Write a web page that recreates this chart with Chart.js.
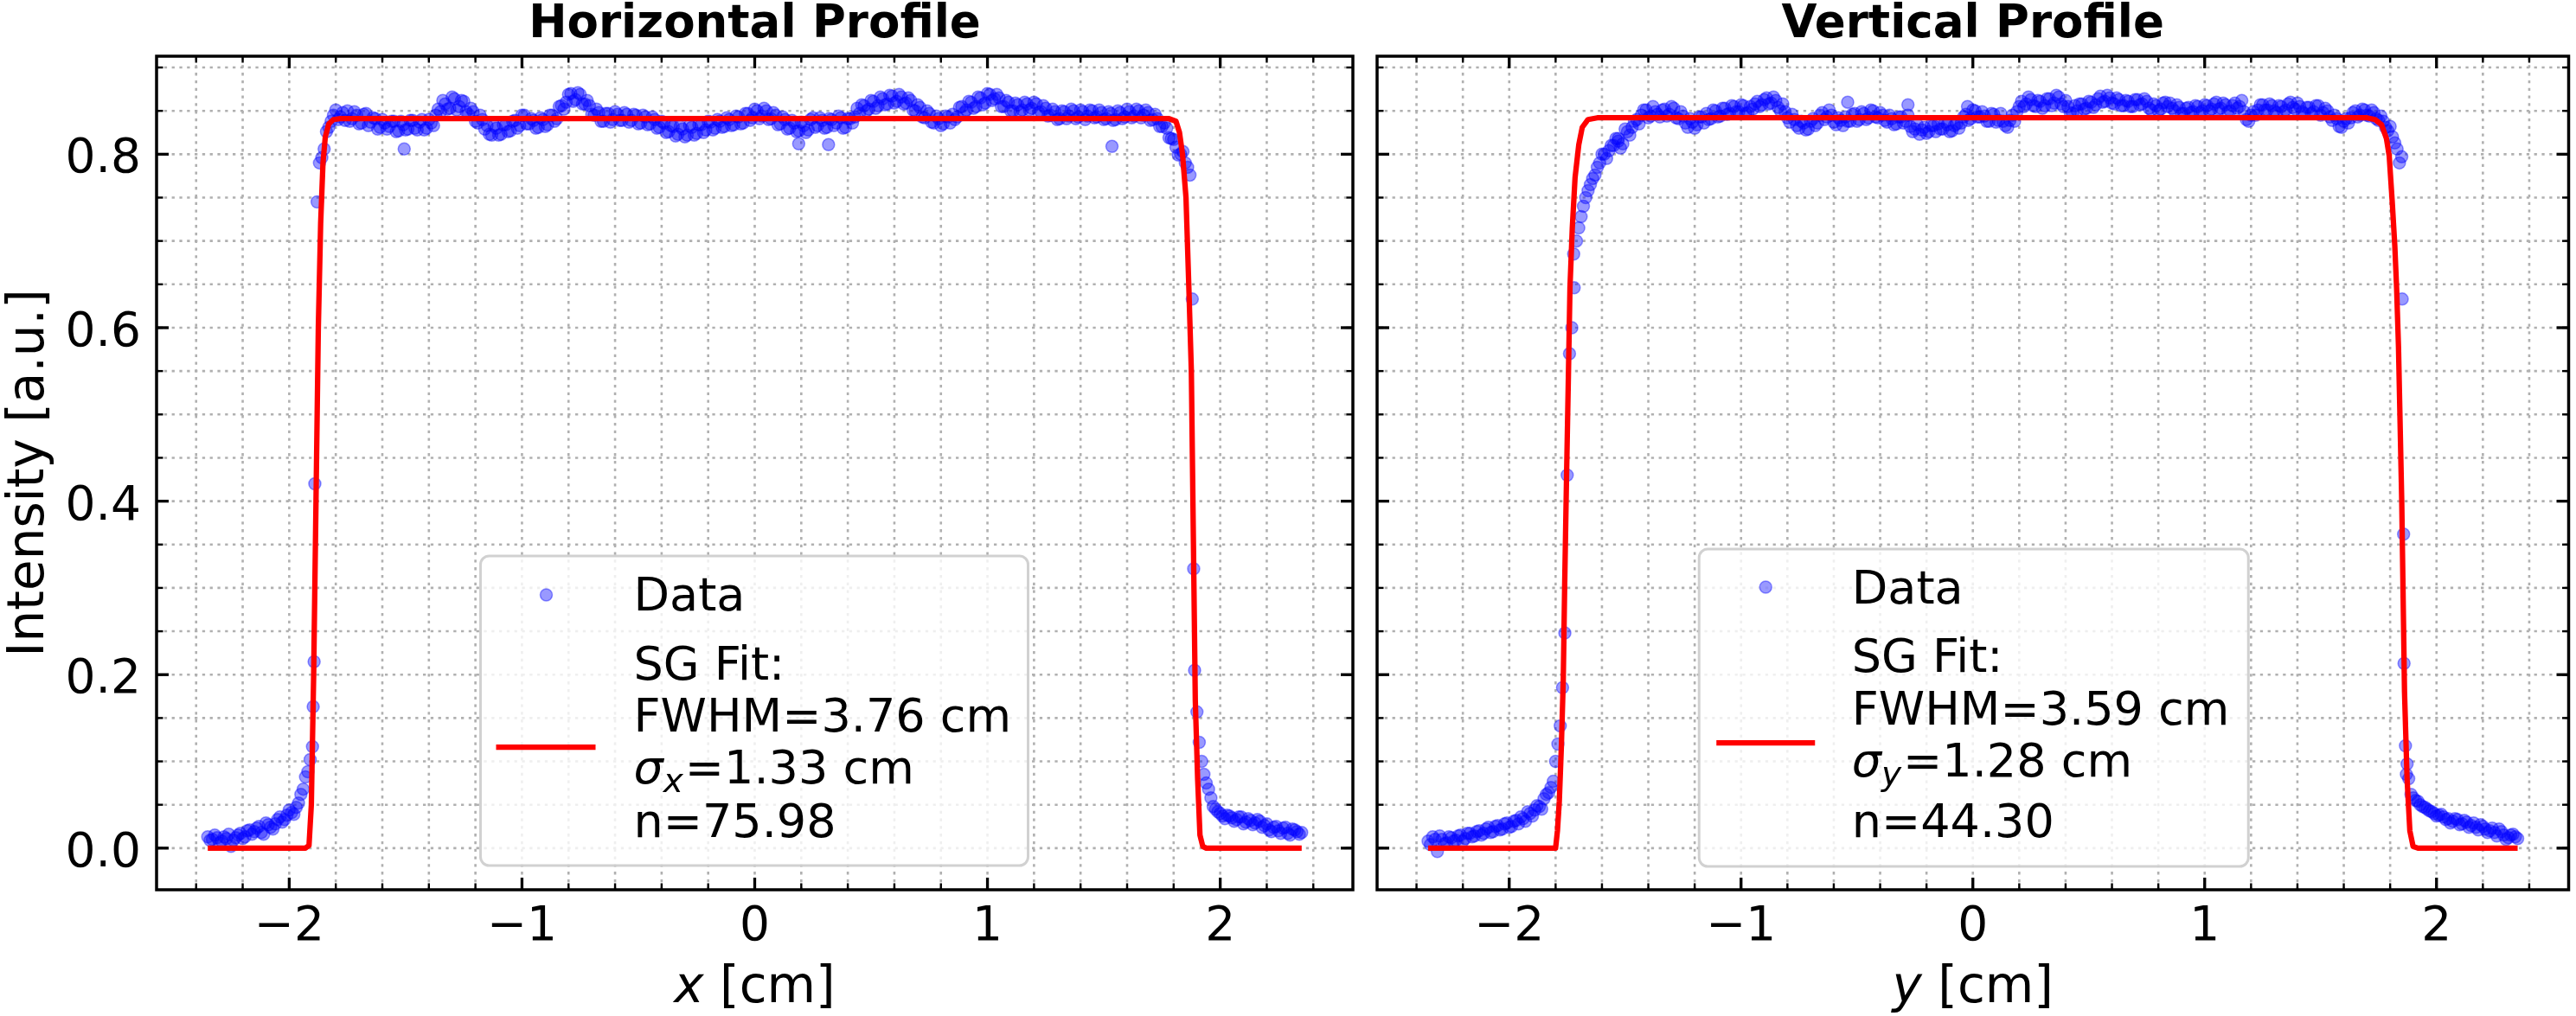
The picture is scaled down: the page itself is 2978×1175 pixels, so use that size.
<!DOCTYPE html>
<html>
<head>
<meta charset="utf-8">
<script src="https://cdn.jsdelivr.net/npm/chart.js@4.4.1/dist/chart.umd.min.js"></script>
<style>
  html, body { margin: 0; padding: 0; background: #fff; overflow: hidden; }
  #wrap { position: relative; width: 2978px; height: 1175px; }
  #wrap canvas { position: absolute; top: 0; }
  #hCanvas { left: 0; }
  #vCanvas { left: 1578px; }
</style>
</head>
<body>
<div id="wrap">
  <canvas id="hCanvas" width="1578" height="1175"></canvas>
  <canvas id="vCanvas" width="1400" height="1175"></canvas>
</div>
<script>
// samples every 0.02 cm: first set starts at -2.35, second (in between) at -2.34
const gridStart = -2.35;
const gridStart2 = -2.34;
const gridStep = 0.02;

// horizontal profile, 10 samples per row
const hY = [
  .013, .010, .012, .008, .011, .002, .012, .017, .013, .021,
  .019, .025, .016, .027, .022, .033, .030, .038, .041, .047,
  .062, .082, .102, .420, .790, .806, .831, .845, .840, .848,
  .850, .841, .845, .836, .847, .837, .841, .831, .836, .832,
  .838, .827, .834, .829, .839, .828, .840, .830, .836, .845,
  .849, .858, .853, .864, .855, .861, .846, .849, .836, .840,
  .833, .822, .830, .823, .834, .827, .839, .833, .845, .835,
  .839, .831, .840, .834, .845, .841, .856, .860, .870, .863,
  .869, .858, .856, .845, .848, .838, .847, .840, .846, .839,
  .846, .839, .845, .836, .843, .835, .840, .831, .836, .826,
  .832, .823, .829, .822, .831, .824, .834, .828, .837, .830,
  .838, .832, .840, .834, .843, .836, .847, .842, .850, .844,
  .850, .841, .845, .835, .840, .830, .836, .827, .833, .828,
  .842, .833, .839, .831, .840, .836, .842, .831, .841, .843,
  .847, .856, .852, .861, .856, .864, .858, .867, .861, .866,
  .859, .862, .850, .854, .842, .847, .836, .841, .835, .843,
  .846, .843, .855, .851, .860, .855, .865, .859, .869, .864,
  .865, .855, .860, .850, .857, .851, .858, .853, .858, .849,
  .853, .845, .849, .841, .849, .844, .850, .843, .849, .844,
  .850, .843, .848, .841, .847, .840, .848, .843, .849, .844,
  .850, .845, .848, .840, .841, .832, .830, .818, .808, .800,
  .790, .776, .205, .122, .085, .068, .048, .042, .037, .038,
  .035, .033, .036, .030, .032, .029, .031, .026, .021, .024,
  .020, .023, .017, .022, .019, .018
];
const hY2 = [
  .009, .015, .006, .013, .016, .009, .015, .011, .020, .016,
  .023, .018, .029, .024, .028, .036, .033, .044, .039, .052,
  .068, .088, .117, .745, .796, .826, .838, .851, .843, .839,
  .838, .849, .835, .846, .833, .842, .829, .840, .829, .838,
  .826, .838, .828, .839, .830, .837, .828, .840, .833, .852,
  .862, .852, .866, .851, .862, .849, .853, .838, .845, .829,
  .823, .833, .822, .834, .826, .838, .830, .845, .835, .841,
  .830, .842, .832, .845, .838, .855, .852, .869, .861, .871,
  .858, .862, .846, .852, .838, .847, .837, .849, .839, .848,
  .837, .846, .835, .845, .834, .843, .830, .838, .825, .833,
  .821, .832, .820, .833, .822, .834, .825, .838, .828, .840,
  .831, .842, .833, .844, .835, .847, .839, .852, .841, .853,
  .840, .848, .834, .843, .829, .839, .826, .837, .825, .840,
  .831, .842, .830, .841, .833, .844, .830, .841, .836, .853,
  .857, .850, .862, .853, .866, .857, .868, .859, .869, .858,
  .865, .851, .857, .843, .850, .837, .844, .833, .844, .836,
  .840, .854, .848, .861, .853, .866, .857, .870, .862, .869,
  .855, .862, .850, .859, .849, .860, .851, .860, .848, .856,
  .844, .852, .840, .850, .841, .852, .841, .851, .840, .851,
  .842, .851, .840, .849, .839, .850, .841, .852, .842, .852,
  .842, .851, .839, .846, .832, .836, .819, .817, .799, .803,
  .785, .633, .157, .100, .075, .058, .045, .040, .034, .037,
  .031, .036, .028, .034, .027, .033, .024, .028, .019, .025,
  .017, .024, .015, .021, .016
];
// edge points and outliers off the sample grid
const hExtraX = [-1.897, -1.893, -1.506, 0.189, 0.317, 1.535, 1.886];
const hExtraY = [.163, .215, .806, .812, .811, .809, .322];

// vertical profile
const vY = [
  .008, .013, -.004, .010, .006, .012, .009, .015, .011, .017,
  .014, .020, .017, .024, .019, .026, .022, .029, .025, .032,
  .036, .031, .040, .044, .048, .057, .064, .077, .120, .185,
  .430, .600, .700, .728, .750, .765, .776, .790, .800, .804,
  .810, .815, .812, .826, .831, .840, .845, .851, .844, .849,
  .843, .852, .846, .853, .841, .844, .831, .837, .834, .843,
  .847, .841, .850, .844, .853, .847, .855, .849, .856, .848,
  .852, .861, .857, .865, .859, .862, .850, .849, .837, .840,
  .830, .836, .829, .841, .836, .848, .843, .845, .834, .839,
  .843, .838, .847, .840, .847, .842, .850, .842, .845, .837,
  .841, .835, .843, .838, .832, .829, .823, .831, .826, .833,
  .835, .829, .834, .827, .835, .836, .846, .841, .850, .843,
  .844, .838, .846, .839, .838, .831, .845, .849, .861, .858,
  .863, .855, .861, .856, .864, .859, .866, .855, .855, .847,
  .850, .858, .853, .860, .857, .867, .861, .865, .858, .863,
  .856, .861, .855, .863, .858, .861, .851, .856, .852, .860,
  .859, .850, .854, .847, .854, .849, .855, .850, .856, .852,
  .860, .853, .857, .850, .859, .855, .849, .838, .849, .851,
  .857, .851, .856, .848, .855, .851, .860, .852, .855, .847,
  .854, .849, .856, .848, .850, .839, .841, .831, .841, .842,
  .850, .845, .851, .844, .848, .839, .838, .827, .820, .806,
  .797, .085, .062, .055, .050, .047, .043, .040, .038, .036,
  .034, .031, .033, .028, .030, .026, .024, .027, .022, .020,
  .018, .022, .015, .012, .016, .011
];
const vY2 = [
  .004, .010, .014, .005, .013, .008, .014, .008, .017, .013,
  .019, .015, .022, .018, .025, .021, .028, .024, .031, .028,
  .034, .042, .037, .049, .045, .062, .070, .100, .141, .248,
  .570, .646, .715, .740, .758, .772, .785, .800, .795, .810,
  .818, .807, .829, .822, .838, .835, .851, .842, .855, .846,
  .851, .844, .855, .842, .849, .836, .841, .830, .843, .836,
  .840, .851, .843, .853, .846, .856, .849, .857, .847, .855,
  .858, .855, .863, .858, .866, .854, .858, .842, .846, .833,
  .838, .828, .838, .833, .845, .840, .851, .837, .842, .833,
  .838, .846, .838, .849, .840, .851, .843, .848, .839, .845,
  .834, .843, .836, .845, .826, .834, .828, .824, .833, .826,
  .829, .837, .826, .833, .830, .843, .839, .851, .843, .849,
  .838, .847, .837, .847, .833, .839, .838, .855, .855, .866,
  .856, .862, .853, .864, .856, .868, .858, .862, .848, .856,
  .858, .852, .861, .854, .864, .860, .868, .859, .865, .856,
  .862, .855, .863, .857, .864, .853, .858, .850, .859, .855,
  .853, .857, .847, .853, .848, .856, .848, .857, .850, .858,
  .852, .859, .849, .856, .853, .862, .840, .845, .845, .857,
  .851, .858, .850, .856, .849, .858, .854, .859, .849, .854,
  .847, .856, .845, .853, .843, .845, .832, .838, .836, .848,
  .843, .852, .845, .851, .841, .844, .831, .832, .813, .790,
  .213, .080, .058, .054, .048, .045, .042, .037, .039, .033,
  .029, .034, .027, .032, .024, .029, .021, .025, .018, .023,
  .014, .019, .010, .015, .013
];
const vExtraX = [-1.722, -1.53, -0.54, -0.28, -0.023, 1.852, 1.858, 1.866, 1.873];
const vExtraY = [.685, .818, .860, .857, .855, .633, .362, .118, .097];

// super-Gaussian fit curves
const hFitX = [-2.35, -1.93, -1.915, -1.905, -1.895, -1.885, -1.875, -1.865, -1.855, -1.845, -1.83, -1.81, -1.78, 1.78, 1.81, 1.825, 1.838, 1.853, 1.866, 1.876, 1.885, 1.893, 1.903, 1.913, 1.925, 1.94, 2.35];
const hFitY = [0, 0, .003, .05, .2, .4, .6, .72, .79, .82, .835, .84, .841, .841, .838, .825, .80, .75, .64, .55, .35, .17, .08, .015, .002, 0, 0];
const vFitX = [-2.35, -1.80, -1.792, -1.784, -1.775, -1.767, -1.761, -1.753, -1.745, -1.738, -1.728, -1.716, -1.70, -1.685, -1.66, -1.62, 1.70, 1.735, 1.763, 1.784, 1.796, 1.809, 1.82, 1.828, 1.836, 1.85, 1.862, 1.873, 1.885, 1.899, 1.92, 2.35];
const vFitY = [0, 0, .02, .054, .118, .193, .30, .425, .541, .646, .715, .773, .811, .831, .840, .842, .842, .840, .834, .818, .798, .745, .695, .645, .578, .40, .18, .08, .02, .002, 0, 0];

const xTicks = [-2, -1, 0, 1, 2];
const yTicks = [0, 0.2, 0.4, 0.6, 0.8];
const xMinor = [];
for (let k = -12; k <= 12; k++) xMinor.push(k * 0.2);
const yMinor = [];
for (let k = 0; k <= 18; k++) yMinor.push(k * 0.05);

const FONT = "'DejaVu Sans', 'Liberation Sans', sans-serif";
const DOT = 'rgba(0,0,255,0.4)';

function toPoints(sets, ex, ey) {
  const pts = [];
  sets.forEach(([start, ys]) => ys.forEach((v, i) => pts.push({ x: start + i * gridStep, y: v })));
  ex.forEach((xv, i) => pts.push({ x: xv, y: ey[i] }));
  return pts;
}
function toLine(xs, ys) {
  return xs.map((xv, i) => ({ x: xv, y: ys[i] }));
}
const fmt = v => (v < 0 ? '\u2212' : '') + Math.abs(v);

const frame = {
  id: 'frame',
  beforeDatasetsDraw(chart) {
    const { ctx, chartArea: a, scales: { x, y } } = chart;
    ctx.save();
    ctx.beginPath();
    ctx.rect(a.left, a.top, a.right - a.left, a.bottom - a.top);
    ctx.clip();
    ctx.strokeStyle = '#b0b0b0';
    ctx.lineWidth = 2.6;
    ctx.setLineDash([3.3, 5.5]);
    xMinor.forEach(v => {
      const p = x.getPixelForValue(v);
      ctx.beginPath(); ctx.moveTo(p, a.bottom); ctx.lineTo(p, a.top); ctx.stroke();
    });
    yMinor.forEach(v => {
      const p = y.getPixelForValue(v);
      ctx.beginPath(); ctx.moveTo(a.left, p); ctx.lineTo(a.right, p); ctx.stroke();
    });
    ctx.restore();
  },
  afterDatasetsDraw(chart, args, o) {
    const { ctx, chartArea: a, scales: { x, y } } = chart;
    const cx = (a.left + a.right) / 2;
    ctx.save();
    ctx.strokeStyle = '#000';
    ctx.fillStyle = '#000';
    const seg = (x0, y0, x1, y1) => { ctx.beginPath(); ctx.moveTo(x0, y0); ctx.lineTo(x1, y1); ctx.stroke(); };

    // ticks, pointing in, on all four sides
    [[xMinor, 7.5, 2.4], [xTicks, 14, 3.3]].forEach(([vals, len, w]) => {
      ctx.lineWidth = w;
      vals.forEach(v => {
        const p = x.getPixelForValue(v);
        if (p < a.left + 2 || p > a.right - 2) return;
        seg(p, a.bottom, p, a.bottom - len);
        seg(p, a.top, p, a.top + len);
      });
    });
    [[yMinor, 7.5, 2.4], [yTicks, 14, 3.3]].forEach(([vals, len, w]) => {
      ctx.lineWidth = w;
      vals.forEach(v => {
        const p = y.getPixelForValue(v);
        seg(a.left, p, a.left + len, p);
        seg(a.right, p, a.right - len, p);
      });
    });
    ctx.lineWidth = 3.5;
    ctx.strokeRect(a.left, a.top, a.right - a.left, a.bottom - a.top);

    // tick labels
    ctx.font = `55px ${FONT}`;
    ctx.textAlign = 'center';
    ctx.textBaseline = 'alphabetic';
    xTicks.forEach(v => ctx.fillText(fmt(v), x.getPixelForValue(v), a.bottom + 58));
    if (o.yLabels) {
      ctx.textAlign = 'right';
      yTicks.forEach(v => ctx.fillText(v.toFixed(1), a.left - 18, y.getPixelForValue(v) + 21));
      ctx.save();
      ctx.font = `58px ${FONT}`;
      ctx.textAlign = 'center';
      ctx.translate(50, (a.top + a.bottom) / 2);
      ctx.rotate(-Math.PI / 2);
      ctx.fillText('Intensity [a.u.]', 0, 0);
      ctx.restore();
    }

    // axis label with italic variable
    ctx.textAlign = 'left';
    ctx.font = `italic 58px ${FONT}`;
    const wv = ctx.measureText(o.axisVar).width;
    ctx.font = `58px ${FONT}`;
    const wr = ctx.measureText(' [cm]').width;
    const x0 = cx - (wv + wr) / 2;
    ctx.font = `italic 58px ${FONT}`;
    ctx.fillText(o.axisVar, x0, a.bottom + 130);
    ctx.font = `58px ${FONT}`;
    ctx.fillText(' [cm]', x0 + wv, a.bottom + 130);

    // title
    ctx.font = `bold 53px ${FONT}`;
    ctx.textAlign = 'center';
    ctx.fillText(o.title, cx, a.top - 22);

    // legend
    const L = o.legend;
    const bx = cx + L.left, by = a.bottom + L.top;
    ctx.beginPath();
    ctx.roundRect(bx, by, L.width, L.height, 10);
    ctx.fillStyle = 'rgba(255,255,255,0.8)';
    ctx.fill();
    ctx.strokeStyle = 'rgba(204,204,204,0.9)';
    ctx.lineWidth = 3;
    ctx.stroke();

    ctx.beginPath();
    ctx.arc(cx + L.markerX, a.bottom + L.markerY, 7, 0, Math.PI * 2);
    ctx.fillStyle = DOT;
    ctx.fill();
    ctx.strokeStyle = DOT;
    ctx.lineWidth = 1.5;
    ctx.stroke();

    ctx.strokeStyle = '#ff0000';
    ctx.lineWidth = 6.25;
    seg(cx + L.lineX0, a.bottom + L.lineY, cx + L.lineX1, a.bottom + L.lineY);

    ctx.fillStyle = '#000';
    ctx.textAlign = 'left';
    ctx.font = `54px ${FONT}`;
    const tx = cx + L.textX;
    const b = L.base.map(v => a.bottom + v);
    ctx.fillText('Data', tx, b[0]);
    ctx.fillText('SG Fit:', tx, b[1]);
    ctx.fillText(o.fwhm, tx, b[2]);
    ctx.font = `italic 54px ${FONT}`;
    ctx.fillText('\u03c3', tx, b[3]);
    const ws = ctx.measureText('\u03c3').width;
    ctx.font = `italic 39px ${FONT}`;
    ctx.fillText(o.axisVar, tx + ws, b[3] + 10);
    const wsub = ctx.measureText(o.axisVar).width;
    ctx.font = `54px ${FONT}`;
    ctx.fillText(o.sigma, tx + ws + wsub + 2, b[3]);
    ctx.fillText(o.n, tx, b[4]);
    ctx.restore();
  }
};

function makeChart(id, pad, points, fit, frameOpts) {
  return new Chart(document.getElementById(id), {
    type: 'scatter',
    data: {
      datasets: [
        { type: 'line', data: fit, borderColor: '#ff0000', borderWidth: 6.25, pointRadius: 0, tension: 0, fill: false, borderJoinStyle: 'round', order: 0 },
        { type: 'scatter', data: points, pointRadius: 7, pointBorderWidth: 1.5, backgroundColor: DOT, borderColor: DOT, order: 1 }
      ]
    },
    options: {
      responsive: false,
      maintainAspectRatio: false,
      animation: false,
      devicePixelRatio: 1,
      events: [],
      layout: { padding: pad },
      scales: {
        x: { type: 'linear', min: -2.57, max: 2.57, display: false },
        y: { type: 'linear', min: -0.048, max: 0.913, display: false }
      },
      plugins: {
        legend: { display: false },
        tooltip: { enabled: false },
        frame: frameOpts
      }
    },
    plugins: [frame]
  });
}

makeChart('hCanvas', { left: 181, right: 14, top: 65, bottom: 146 },
  toPoints([[gridStart, hY], [gridStart2, hY2]], hExtraX, hExtraY), toLine(hFitX, hFitY), {
    title: 'Horizontal Profile', axisVar: 'x', yLabels: true,
    fwhm: 'FWHM=3.76 cm', sigma: '=1.33 cm', n: 'n=75.98',
    legend: { left: -317, top: -386, width: 633, height: 358, markerX: -241, markerY: -341,
      lineX0: -299, lineX1: -184, lineY: -165, textX: -140, base: [-323, -243, -183, -123, -61] }
  });

makeChart('vCanvas', { left: 14, right: 3, top: 65, bottom: 146 },
  toPoints([[gridStart, vY], [gridStart2, vY2]], vExtraX, vExtraY), toLine(vFitX, vFitY), {
    title: 'Vertical Profile', axisVar: 'y', yLabels: false,
    fwhm: 'FWHM=3.59 cm', sigma: '=1.28 cm', n: 'n=44.30',
    legend: { left: -316.5, top: -394, width: 635, height: 367, markerX: -239.5, markerY: -350,
      lineX0: -296.5, lineX1: -182.5, lineY: -170, textX: -140, base: [-331, -252, -191, -131, -61] }
  });
</script>
</body>
</html>
